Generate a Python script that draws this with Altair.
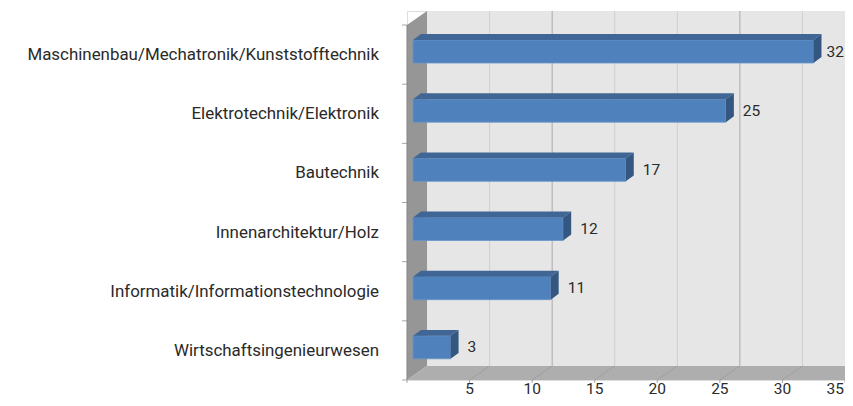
import altair as alt
import pandas as pd

categories = ["Maschinenbau/Mechatronik/Kunststofftechnik", "Elektrotechnik/Elektronik", "Bautechnik",
              "Innenarchitektur/Holz", "Informatik/Informationstechnologie", "Wirtschaftsingenieurwesen"]
values = [32, 25, 17, 12, 11, 3]
x_ticks = [5, 10, 15, 20, 25, 30, 35]
grid_colors = ["#cfcfcf", "#ababab", "#cfcfcf", "#cfcfcf", "#ababab", "#cfcfcf", "#cfcfcf"]

FONT = "Roboto"
FS = 16.9
FN = 15.5
TXT = "#2a2a2a"
n = len(categories)
XMAX = 35
DX, DY = 1.6, 0.237     # wall depth in scale units
BX, BY = 0.64, 0.1      # bar depth in scale units
X0 = 0.48               # bars start offset
BAR_TOP, BAR_BOT = 0.2535, 0.642   # within a slot from its top

xs = alt.Scale(domain=[0, XMAX], nice=False, zero=False)
ys = alt.Scale(domain=[0, n + DY], nice=False, zero=False)
X = lambda f: alt.X(f, type="quantitative", scale=xs, axis=None)
Y = lambda f: alt.Y(f, type="quantitative", scale=ys, axis=None)
X2 = lambda f: alt.X2(f)
Y2 = lambda f: alt.Y2(f)

# walls
back = alt.Chart(pd.DataFrame({"a": [DX], "b": [XMAX], "c": [DY], "d": [n + DY]})).mark_rect(color="#e6e6e6").encode(
    x=X("a"), x2=X2("b"), y=Y("c"), y2=Y2("d"))
left = alt.Chart(pd.DataFrame({"x": [0, DX], "y": [0, DY], "y2": [n, n + DY]})).mark_area(color="#969696", orient="vertical").encode(
    x=X("x"), y=Y("y"), y2=Y2("y2"))
floor = alt.Chart(pd.DataFrame({"y": [0, DY], "x": [0, DX], "x2": [35, 35 + DX]})).mark_area(color="#aeaeae", orient="horizontal", clip=True).encode(
    y=Y("y"), x=X("x"), x2=X2("x2"))

# grid on back wall
grid_df = pd.DataFrame({"v": x_ticks, "c": grid_colors})
grid_df["gx"] = grid_df.v + DX
grid_df["y0"] = DY
grid_df["y1"] = n + DY
grid = alt.Chart(grid_df[grid_df.v < 33]).mark_rule(strokeWidth=1).encode(
    x=X("gx"), y=Y("y0"), y2=Y2("y1"), color=alt.Color("c:N", scale=None))

# floor diagonals
diag_rows = []
for v in x_ticks:
    diag_rows += [{"v": v, "x": v, "y": 0}, {"v": v, "x": v + DX, "y": DY}]
diag = alt.Chart(pd.DataFrame(diag_rows)).mark_line(color="#8c8c8c", strokeWidth=0.7, strokeDash=[2, 1], clip=True).encode(
    x=X("x"), y=Y("y"), detail="v:N")

# axis line and ticks
axis_y = alt.Chart(pd.DataFrame({"x": [0], "y": [0], "y2": [n]})).mark_rule(color="#858585", strokeWidth=1).encode(
    x=X("x"), y=Y("y"), y2=Y2("y2"))
xt = alt.Chart(pd.DataFrame({"v": [0] + x_ticks, "y": 0})).mark_tick(orient="vertical", size=3, thickness=1, color="#808080", yOffset=1.5).encode(
    x=X("v"), y=Y("y"))
yt = alt.Chart(pd.DataFrame({"s": list(range(n + 1)), "x": 0})).mark_tick(orient="horizontal", size=5, thickness=1, color="#808080", xOffset=-2.5).encode(
    y=Y("s"), x=X("x"))
xl_df = pd.DataFrame({"v": x_ticks, "y": 0})
xl = alt.Chart(xl_df[xl_df.v < 35]).mark_text(font=FONT, fontSize=FN, color=TXT, align="center", baseline="middle", dy=9).encode(
    x=X("v"), y=Y("y"), text="v:Q")
xl_last = alt.Chart(xl_df[xl_df.v == 35]).mark_text(font=FONT, fontSize=FN, color=TXT, align="right", baseline="middle", dy=9, dx=-1).encode(
    x=X("v"), y=Y("y"), text="v:Q")

# bars
rows = []
for i, (c, v) in enumerate(zip(categories, values)):
    top = n - i - BAR_TOP
    bot = n - i - BAR_BOT
    rows.append({"c": c, "v": v, "top": top, "bot": bot, "mid": (top + bot) / 2,
                 "x0": X0, "x1": X0 + v})
bars = pd.DataFrame(rows)
tops, sides = [], []
for r in rows:
    tops += [{"c": r["c"], "y": r["top"], "a": r["x0"], "b": r["x1"]},
             {"c": r["c"], "y": r["top"] + BY, "a": r["x0"] + BX, "b": r["x1"] + BX}]
    sides += [{"c": r["c"], "x": r["x1"], "y": r["bot"], "y2": r["top"]},
              {"c": r["c"], "x": r["x1"] + BX, "y": r["bot"] + BY, "y2": r["top"] + BY}]
front = alt.Chart(bars).mark_rect(color="#4f81bd", stroke="#6a94c8", strokeWidth=0.8).encode(
    x=X("x0"), x2=X2("x1"), y=Y("bot"), y2=Y2("top"))
top_f = alt.Chart(pd.DataFrame(tops)).mark_area(color="#3f6694", orient="horizontal").encode(
    y=Y("y"), x=X("a"), x2=X2("b"), detail="c:N")
side_f = alt.Chart(pd.DataFrame(sides)).mark_area(color="#335780", orient="vertical").encode(
    x=X("x"), y=Y("y"), y2=Y2("y2"), detail="c:N")

val = alt.Chart(bars[bars.v < 30]).mark_text(font=FONT, fontSize=FN, color=TXT, align="left", baseline="middle", dx=17).encode(
    x=X("x1"), y=Y("mid"), text="v:Q")
val_top = alt.Chart(bars[bars.v >= 30]).mark_text(font=FONT, fontSize=FN, color=TXT, align="left", baseline="middle", dx=13).encode(
    x=X("x1"), y=Y("mid"), text="v:Q")
cat = alt.Chart(bars.assign(x=0)).mark_text(font=FONT, fontSize=FS, color=TXT, align="right", baseline="middle", dx=-28, dy=3.5).encode(
    x=X("x"), y=Y("mid"), text="c:N")

chart = alt.layer(back, left, floor, grid, diag, axis_y, xt, yt, xl, xl_last, front, top_f, side_f, val, val_top, cat).properties(
    width=438, height=369,
    padding={"left": 399, "top": 3, "right": 0, "bottom": 18},
    autosize=alt.AutoSizeParams(type="none"),
).configure_view(stroke=None).configure(background="white")

chart.save("out.html", embed_options={"renderer": "svg", "actions": False})
